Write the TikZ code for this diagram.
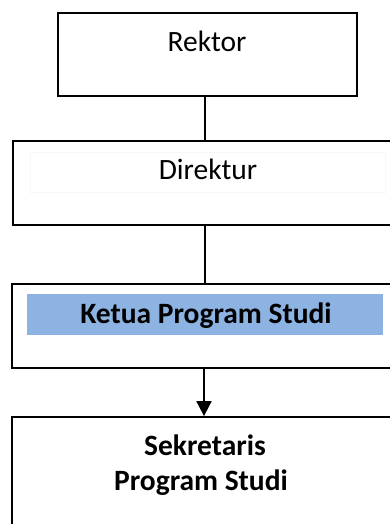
\documentclass[tikz,border=0pt]{standalone}
\usepackage{fontspec}
\setmainfont{Carlito}
\usetikzlibrary{arrows.meta}
\definecolor{kblue}{HTML}{8DB3E2}
\tikzset{
  orgbox/.style={draw=black, line width=1.8pt, rectangle, inner sep=0pt},
  lbl/.style={font=\fontsize{29.5}{35}\selectfont, inner sep=0pt, anchor=base},
  lblb/.style={font=\fontsize{29.5}{35}\selectfont\bfseries, inner sep=0pt, align=center},
  conn/.style={line width=1.8pt, draw=black},
}
\begin{document}
\begin{tikzpicture}[x=1pt,y=-1pt]
\path[use as bounding box] (0,0) rectangle (390,524);
\clip (0,0) rectangle (390,524);
% boxes
\node[orgbox, minimum width=299pt, minimum height=83pt] (rektor) at (207.5,54.5) {};
\node[orgbox, minimum width=400pt, minimum height=84pt] (direktur) at (213,183) {};
\node[orgbox, minimum width=400pt, minimum height=84pt] (ketua) at (212,326) {};
\node[orgbox, minimum width=400pt, minimum height=130pt] (sekretaris) at (212,482) {};
% faint text frame in Direktur
\node[draw=black!3, line width=0.5pt, minimum width=355pt, minimum height=40pt, inner sep=0pt] (dframe) at (207.5,172) {};
% blue band
\node[fill=kblue, minimum width=356pt, minimum height=41pt, inner sep=0pt] (band) at (205,314.5) {};
% labels
\node[lbl] (trektor) at (207,52) {Rektor};
\node[lbl] (tdirektur) at (208,179) {Direktur};
\node[lblb, anchor=base] (tketua) at (206,323) {Ketua Program Studi};
\node[lblb, anchor=base] (tsek1) at (205,455) {Sekretaris};
\node[lblb, anchor=base] (tsek2) at (201,490) {Program Studi};
% connectors
\draw[conn] ([xshift=-2.5pt]rektor.south) -- ([xshift=-2.5pt]rektor.south |- direktur.north);
\draw[conn] ([xshift=-2.5pt]rektor.south |- direktur.south) -- ([xshift=-2.5pt]rektor.south |- ketua.north);
\draw[conn, -{Triangle[width=15pt,length=15pt]}] ([xshift=-3.5pt]rektor.south |- ketua.south) -- ([xshift=-3.5pt]rektor.south |- sekretaris.north);
\end{tikzpicture}
\end{document}
